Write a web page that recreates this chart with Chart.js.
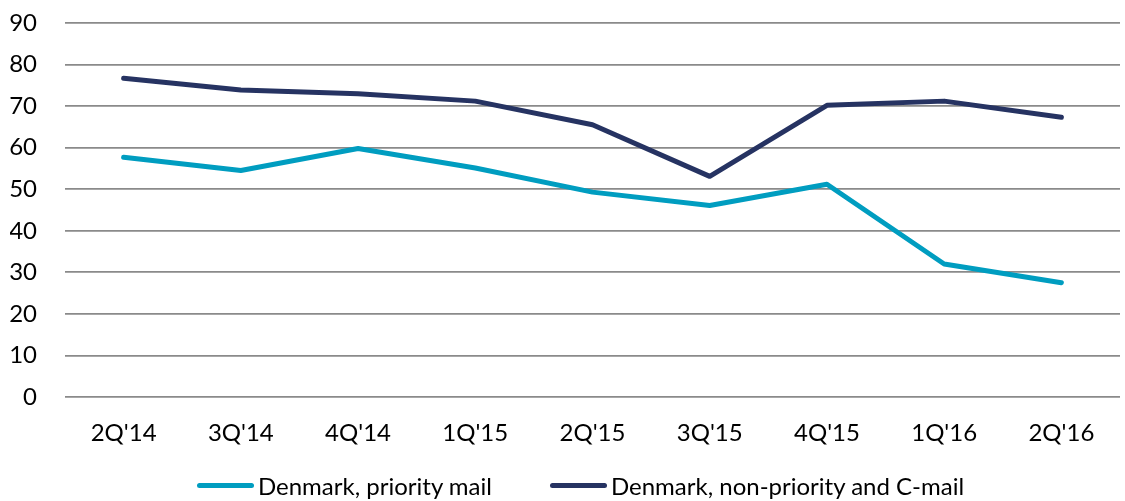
<!DOCTYPE html>
<html>
<head>
<meta charset="utf-8">
<script src="https://cdn.jsdelivr.net/npm/chart.js@4"></script>
<style>
  html, body { margin: 0; padding: 0; background: #fff; }
  #wrap { width: 1125px; height: 501px; position: relative; }
  #legend {
    position: absolute; left: 0; right: 0; top: 471px; height: 28px; padding-left: 36px;
    display: flex; justify-content: center; align-items: center; gap: 58px;
    font-family: Lato, "Open Sans", sans-serif; font-size: 24px; color: #000;
  }
  .lg-item { display: flex; align-items: center; }
  .lg-line { width: 57px; height: 5px; border-radius: 3px; margin-right: 4px; }
</style>
</head>
<body>
<div id="wrap">
  <canvas id="chart" width="1125" height="501"></canvas>
  <div id="legend"></div>
</div>
<script>
// categorias y series
var quarters = ["2Q'14", "3Q'14", "4Q'14", "1Q'15", "2Q'15", "3Q'15", "4Q'15", "1Q'16", "2Q'16"];
var priorityMail = [57.7, 54.5, 59.8, 55.1, 49.3, 46.1, 51.2, 32.0, 27.5];
var nonPriorityMail = [76.7, 73.9, 73.0, 71.2, 65.5, 53.1, 70.2, 71.2, 67.3];
var yTicks = [0, 10, 20, 30, 40, 50, 60, 70, 80, 90];

var fontFamily = 'Lato, "Open Sans", sans-serif';

var chart = new Chart(document.getElementById('chart').getContext('2d'), {
  type: 'line',
  data: {
    labels: quarters,
    datasets: [
      {
        label: 'Denmark, priority mail',
        data: priorityMail,
        borderColor: '#009DC0',
        backgroundColor: '#009DC0',
        borderWidth: 5,
        pointRadius: 0,
        borderCapStyle: 'round',
        borderJoinStyle: 'round',
        tension: 0
      },
      {
        label: 'Denmark, non-priority and C-mail',
        data: nonPriorityMail,
        borderColor: '#263362',
        backgroundColor: '#263362',
        borderWidth: 5,
        pointRadius: 0,
        borderCapStyle: 'round',
        borderJoinStyle: 'round',
        tension: 0
      }
    ]
  },
  options: {
    responsive: false,
    animation: false,
    layout: { padding: { top: 23, right: 5, left: 10, bottom: 0 } },
    plugins: {
      tooltip: { enabled: false },
      legend: { display: false }
    },
    scales: {
      x: {
        offset: true,
        grid: { display: false, drawTicks: false },
        border: { display: false },
        afterFit: function(scale) { scale.height = 104; },
        ticks: {
          color: '#000',
          font: { family: fontFamily, size: 24 },
          padding: 22,
          maxRotation: 0
        }
      },
      y: {
        min: 0,
        max: 90,
        afterBuildTicks: function(axis) {
          axis.ticks = yTicks.map(function(v) { return { value: v }; });
        },
        afterFit: function(scale) {
          scale.width = 55;
          scale.paddingTop = 0;
          scale.paddingBottom = 0;
        },
        grid: { color: '#8a8a8a', lineWidth: 1.8, drawTicks: false },
        border: { display: false },
        ticks: {
          color: '#000',
          font: { family: fontFamily, size: 24 },
          padding: 28
        }
      }
    }
  }
});

// leyenda HTML a partir de los datasets
var legendEl = document.getElementById('legend');
chart.data.datasets.forEach(function(ds) {
  var item = document.createElement('div');
  item.className = 'lg-item';
  var line = document.createElement('span');
  line.className = 'lg-line';
  line.style.background = ds.borderColor;
  var txt = document.createElement('span');
  txt.textContent = ds.label;
  item.appendChild(line);
  item.appendChild(txt);
  legendEl.appendChild(item);
});
</script>
</body>
</html>
